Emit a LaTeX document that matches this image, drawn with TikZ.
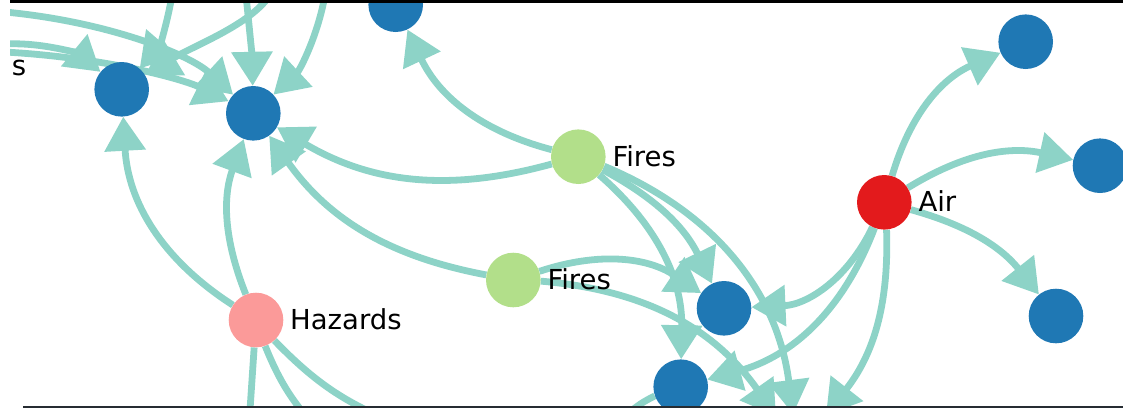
\documentclass[tikz,border=0pt]{standalone}
\usepackage{fontspec}
\setmainfont{DejaVu Sans}
\usetikzlibrary{arrows.meta}
\pgfdeclarelayer{background}
\pgfsetlayers{background,main}
\definecolor{edgecol}{HTML}{8DD3C7}
\definecolor{nblue}{HTML}{1F78B4}
\definecolor{nred}{HTML}{E31A1C}
\definecolor{ngreen}{HTML}{B2DF8A}
\definecolor{npink}{HTML}{FB9A99}
\definecolor{frameline}{RGB}{38,44,50}

\begin{document}
\begin{tikzpicture}[x=1pt,y=-1pt,
  vert/.style={circle,inner sep=0pt,minimum size=54.6pt},
  link/.style={draw=edgecol,line width=6.8pt},
  arr/.style={link,-{Triangle[length=34pt,width=40pt]}},
  lbl/.style={inner sep=0pt,font=\fontsize{27.5}{30}\selectfont}]

\useasboundingbox (0,0) rectangle (1123,408);

% graph vertices
\begin{scope}
\clip (10,3) rectangle (1123,406);
\node[vert,fill=nblue]  (A)   at (121.7,89.3) {};
\node[vert,fill=nblue]  (B)   at (253.3,113.3) {};
\node[vert,fill=nblue]  (C)   at (395.7,4.7) {};
\node[vert,fill=ngreen] (F1)  at (578.3,156.7) {};
\node[vert,fill=ngreen] (F2)  at (513.3,280) {};
\node[vert,fill=nblue]  (E)   at (724,308.3) {};
\node[vert,fill=nblue]  (G)   at (680.7,386.7) {};
\node[vert,fill=nred]   (Air) at (884.3,202.3) {};
\node[vert,fill=nblue]  (D1)  at (1025.7,41.7) {};
\node[vert,fill=nblue]  (D2)  at (1100,165.7) {};
\node[vert,fill=nblue]  (D3)  at (1056,316) {};
\node[vert,fill=npink]  (H)   at (256,320) {};

% vertex labels
\node[lbl,anchor=base west] (lF1) at (612.3,166.2) {Fires};
\node[lbl,anchor=base west] (lF2) at (547.3,289.5) {Fires};
\node[lbl,anchor=base west] (lAir) at (918.3,211.8) {Air};
\node[lbl,anchor=base west] (lH) at (290,329.5) {Hazards};
\node[lbl,anchor=base east] (ls) at (26.4,75) {s};
\end{scope}

% loose ends of edges leaving the frame
\coordinate (X2) at (793,414);
\coordinate (X3) at (776,416);
\coordinate (X4) at (826,415);
\coordinate (hb1) at (248,440);
\coordinate (hb2) at (318,430);
\coordinate (hb3) at (400,425);
\coordinate (gb1) at (622,420);
\coordinate (t1) at (5,12);
\coordinate (t2) at (5,44);
\coordinate (t3) at (5,52);
\coordinate (t4) at (172,-5);
\coordinate (t5) at (270,-5);
\coordinate (t6) at (246,-5);
\coordinate (t7) at (325,-5);

% edges
\begin{pgfonlayer}{background}
\begin{scope}
\clip (10,3) rectangle (1123,406);
\draw[arr] (F1) to[bend left=25] (C);
\draw[arr] (F1) to[bend left=23] (B);
\draw[arr] (F2) to[bend left=22] (B);
\draw[arr] (H) to[bend left=27] (A);
\draw[arr] (H) to[bend left=21] (B);
\draw[arr] (F1) to[bend left=18] (E);
\draw[arr] (F1) to[bend left=30] (X2);
\draw[arr] (F1) to[bend left=25] (G);
\draw[arr] (F2) to[bend left=26] (E);
\draw[arr] (F2) to[bend left=25] (X3);
\draw[arr] (Air) to[bend left=25] (D1);
\draw[arr] (Air) to[bend left=22] (D2);
\draw[arr] (Air) to[bend left=18] (D3);
\draw[arr] (Air) to[bend left=31] (E);
\draw[arr] (Air) to[bend left=27] (G);
\draw[arr] (Air) to[bend left=20] (X4);
\draw[link] (H) -- (hb1);
\draw[link] (H) to[bend right=10] (hb2);
\draw[link] (H) to[bend right=12] (hb3);
\draw[link] (gb1) to[bend left=10] (G);
\draw[arr] (t1) .. controls (110,22) and (190,55) .. (B);
\draw[arr] (t2) .. controls (45,42) and (80,55) .. (A);
\draw[arr] (t3) .. controls (110,58) and (185,80) .. (B);
\draw[arr] (t4) .. controls (168,20) and (160,45) .. (A);
\draw[arr] (t5) .. controls (250,25) and (195,45) .. (A);
\draw[arr] (t6) .. controls (249,25) and (252,55) .. (B);
\draw[arr] (t7) .. controls (318,35) and (300,70) .. (B);
\end{scope}
\end{pgfonlayer}

% frame rules at top and bottom
\fill[black] (10,0) rectangle (1123,3.3);
\fill[frameline] (23,405.7) rectangle (1123,408);
\end{tikzpicture}
\end{document}
